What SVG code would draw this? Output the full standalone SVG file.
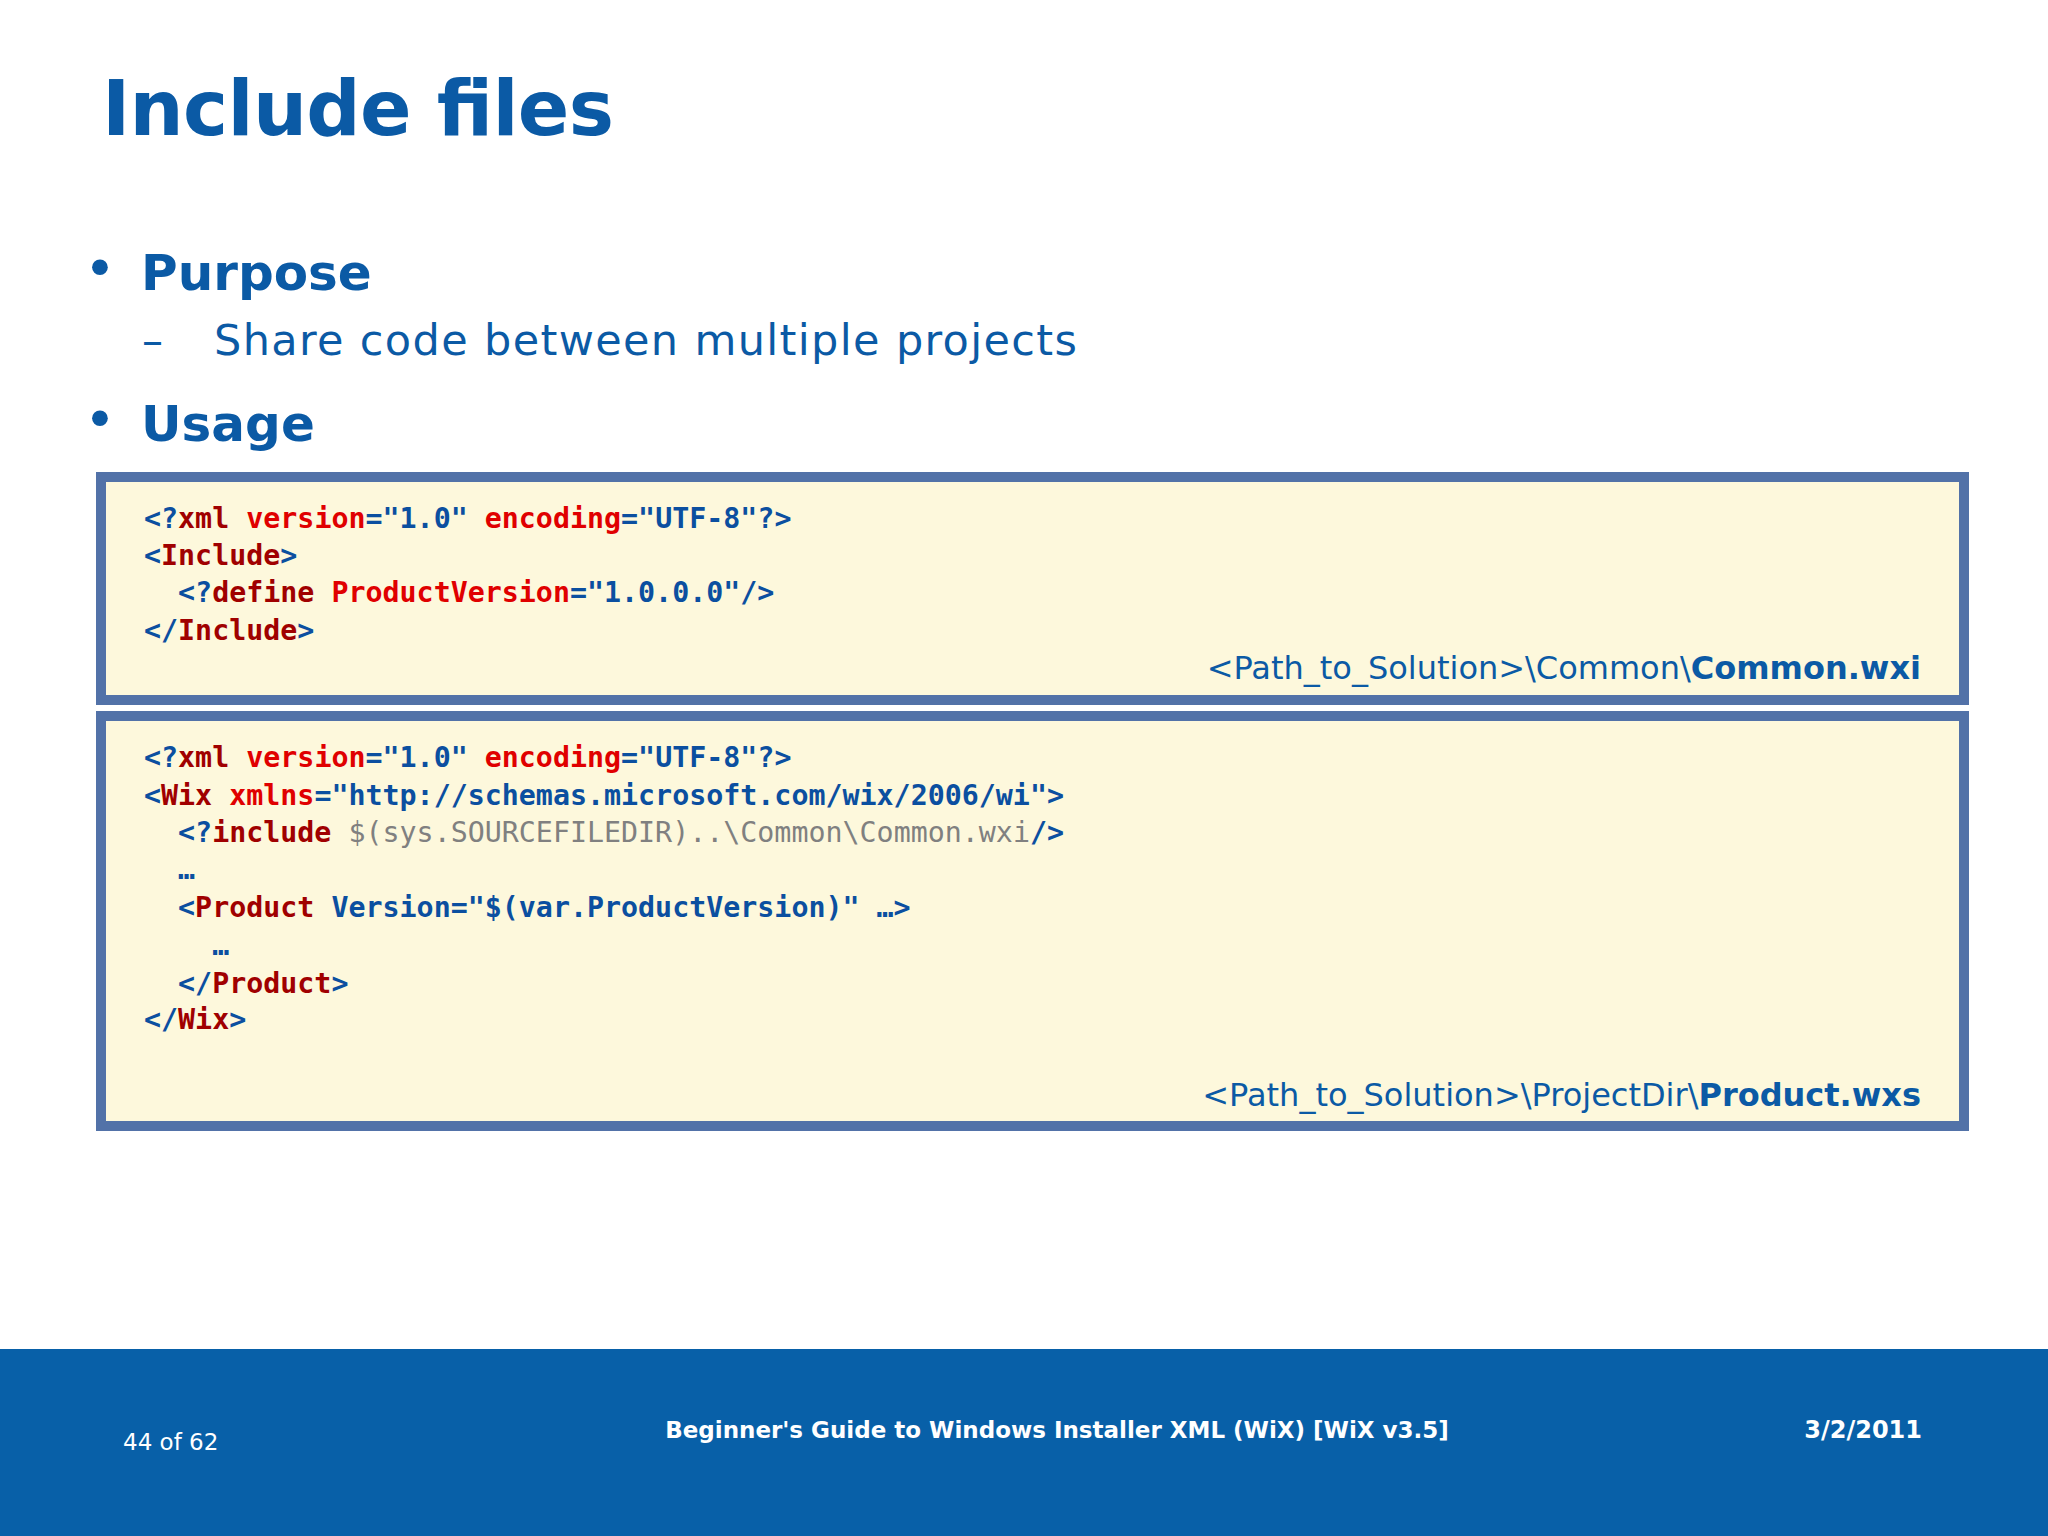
<svg xmlns="http://www.w3.org/2000/svg" width="2048" height="1536" viewBox="0 0 2048 1536">
<style>
.t{font-family:"DejaVu Sans",Verdana,sans-serif;fill:#0b5aa5}
.b{font-weight:bold}
.code{font-family:"DejaVu Sans Mono","Liberation Mono",monospace;font-size:28.3px;font-weight:bold;fill:#0b4fa0}
.r{fill:#e00000}
.e{fill:#a00000}
.g{fill:#808080;font-weight:normal}
.box{fill:#fdf8dc;stroke:#5272a8;stroke-width:10}
.lab{font-family:"DejaVu Sans",Verdana,sans-serif;font-size:32px;fill:#0b5aa5}
.f{font-family:"DejaVu Sans",Verdana,sans-serif;fill:#ffffff}
</style>
<rect width="2048" height="1536" fill="#ffffff"/>
<g id="title"><text class="t b" x="102" y="135" font-size="76" textLength="512">Include files</text></g>
<g id="bullets">
<text class="t" x="84" y="287" font-size="54">•</text>
<text class="t b" x="141" y="290" font-size="50">Purpose</text>
<text class="t" x="142" y="355" font-size="42">–</text>
<text class="t" x="214" y="355" font-size="43" textLength="863">Share code between multiple projects</text>
<text class="t" x="84" y="438" font-size="54">•</text>
<text class="t b" x="141" y="441" font-size="50">Usage</text>
</g>
<g id="box1">
<rect class="box" x="101" y="477" width="1863" height="223"/>
<text class="code" xml:space="preserve"><tspan x="144" y="528">&lt;?<tspan class="e">xml</tspan> <tspan class="r">version</tspan>="1.0" <tspan class="r">encoding</tspan>="UTF-8"?&gt;</tspan><tspan x="144" y="565">&lt;<tspan class="e">Include</tspan>&gt;</tspan><tspan x="144" y="602">  &lt;?<tspan class="e">define</tspan> <tspan class="r">ProductVersion</tspan>="1.0.0.0"/&gt;</tspan><tspan x="144" y="640">&lt;/<tspan class="e">Include</tspan>&gt;</tspan></text>
<text class="lab" x="1921" y="679" text-anchor="end">&lt;Path_to_Solution&gt;\Common\<tspan font-weight="bold">Common.wxi</tspan></text>
</g>
<g id="box2">
<rect class="box" x="101" y="716" width="1863" height="410"/>
<text class="code" xml:space="preserve"><tspan x="144" y="767">&lt;?<tspan class="e">xml</tspan> <tspan class="r">version</tspan>="1.0" <tspan class="r">encoding</tspan>="UTF-8"?&gt;</tspan><tspan x="144" y="805">&lt;<tspan class="e">Wix</tspan> <tspan class="r">xmlns</tspan>="http://schemas.microsoft.com/wix/2006/wi"&gt;</tspan><tspan x="144" y="842">  &lt;?<tspan class="e">include</tspan> <tspan class="g">$(sys.SOURCEFILEDIR)..\Common\Common.wxi</tspan>/&gt;</tspan><tspan x="144" y="879">  …</tspan><tspan x="144" y="917">  &lt;<tspan class="e">Product</tspan> Version="$(var.ProductVersion)" …&gt;</tspan><tspan x="144" y="955">    …</tspan><tspan x="144" y="993">  &lt;/<tspan class="e">Product</tspan>&gt;</tspan><tspan x="144" y="1029">&lt;/<tspan class="e">Wix</tspan>&gt;</tspan></text>
<text class="lab" x="1921" y="1106" text-anchor="end">&lt;Path_to_Solution&gt;\ProjectDir\<tspan font-weight="bold">Product.wxs</tspan></text>
</g>
<g id="footer">
<rect x="0" y="1349" width="2048" height="187" fill="#0860a8"/>
<text class="f" x="123" y="1450" font-size="23">44 of 62</text>
<text class="f b" x="1057" y="1438" font-size="23" text-anchor="middle">Beginner's Guide to Windows Installer XML (WiX) [WiX v3.5]</text>
<text class="f b" x="1922" y="1438" font-size="24" text-anchor="end">3/2/2011</text>
</g>
</svg>
